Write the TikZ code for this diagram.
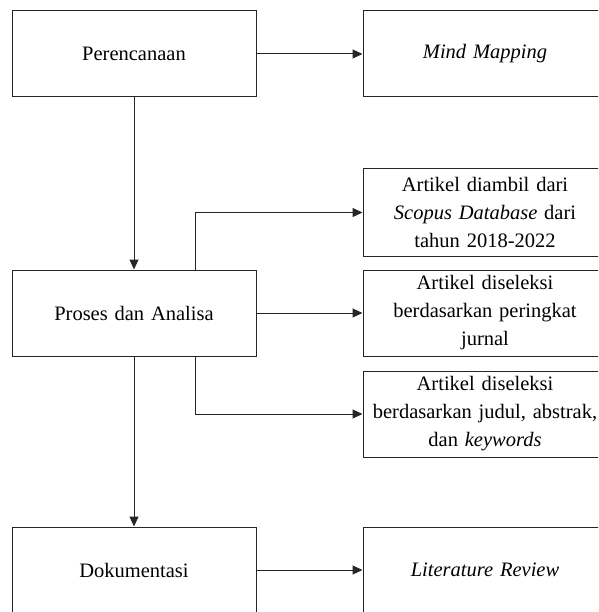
\documentclass[tikz,border=0pt]{standalone}
\usepackage{fontspec}
\setmainfont{Liberation Serif}
\usetikzlibrary{arrows.meta}

\tikzset{
    kotak/.style={draw=black!85, line width=1pt, minimum width=244pt, minimum height=86pt,
        text width=236pt, align=center, font=\fontsize{20.5}{28}\selectfont},
    panah/.style={draw=black!85, line width=1pt, -{Triangle[length=10pt,width=9pt]}}
}

\begin{document}
\begin{tikzpicture}[x=1pt,y=-1pt]
        \clip (0,0) rectangle (598,612);
        \useasboundingbox (0,0) rectangle (598,612);
        % kolom kiri
        \node[kotak] (rencana) at (134,54) {Perencanaan};
        \node[kotak] (proses) at (134,313) {Proses dan Analisa};
        \node[kotak] (dokumen) at (134,570) {Dokumentasi};
        % kolom kanan
        \node[kotak] (mind) at (485,54) {\textit{Mind Mapping}};
        \node[kotak, minimum height=87pt] (artikelA) at (485,212.5) {Artikel diambil dari\\ \textit{Scopus Database} dari\\ tahun 2018-2022};
        \node[kotak] (artikelB) at (485,313) {Artikel diseleksi\\ berdasarkan peringkat\\ jurnal};
        \node[kotak] (artikelC) at (485,414) {Artikel diseleksi\\ berdasarkan judul, abstrak,\\ dan \textit{keywords}};
        \node[kotak] (review) at (485,570) {\textit{Literature Review}};
        % panah
        \draw[panah] (rencana) -- (mind);
        \draw[panah] (rencana) -- (proses);
        \draw[panah] (proses) -- (dokumen);
        \draw[panah] (proses) -- (artikelB);
        \draw[panah] (dokumen) -- (review);
        \coordinate (cabangA) at ([xshift=61pt]proses.north);
        \coordinate (cabangC) at ([xshift=61pt]proses.south);
        \draw[panah] (cabangA) |- (artikelA);
        \draw[panah] (cabangC) |- (artikelC);
    \end{tikzpicture}
\end{document}
